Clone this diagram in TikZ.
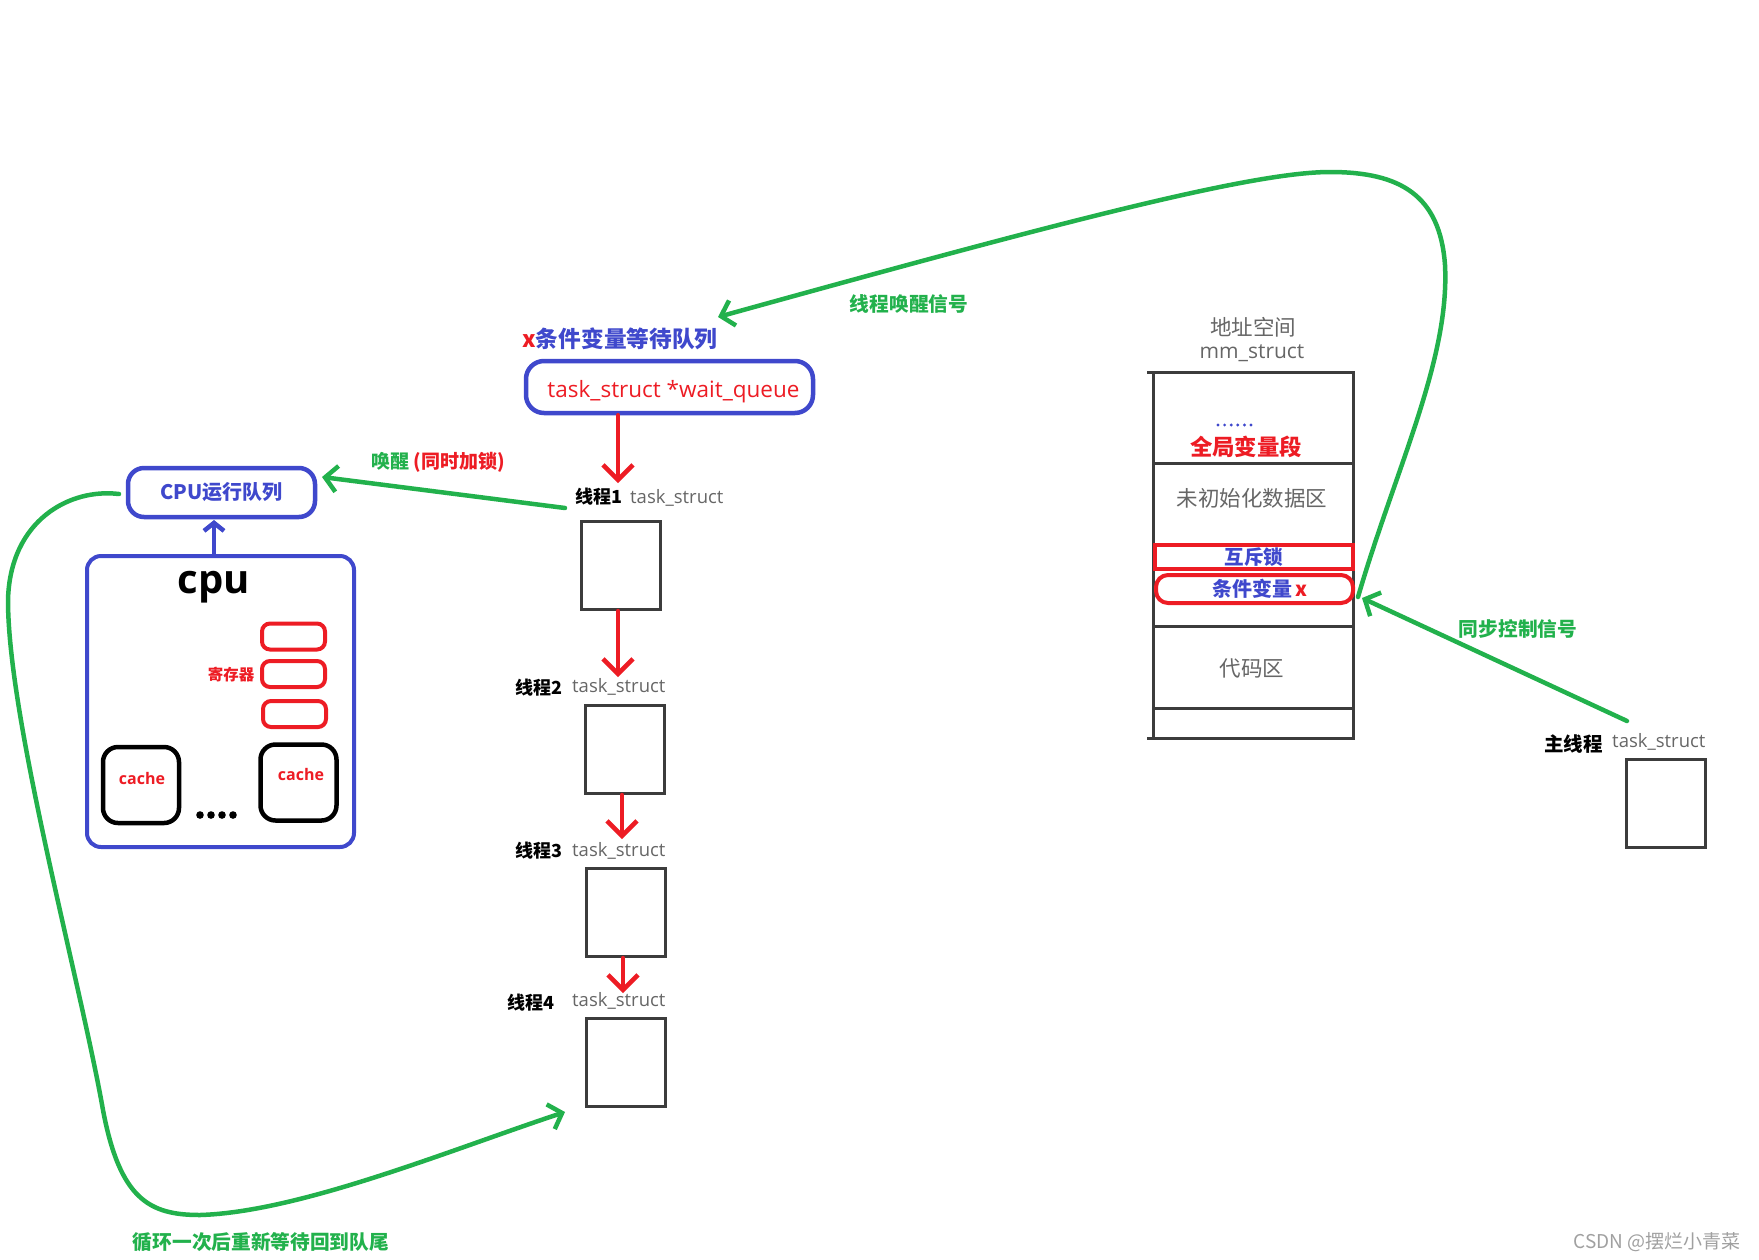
\documentclass[tikz,border=0pt]{standalone}
\usepackage{fontspec}
\setmainfont{Open Sans}
\newfontfamily\cjk{Noto Sans CJK SC}
\usetikzlibrary{arrows.meta}
\definecolor{cgreen}{HTML}{22B14C}
\definecolor{cblue}{HTML}{3F48CC}
\definecolor{cred}{HTML}{ED1C24}
\definecolor{cdark}{HTML}{3C3C3C}
\definecolor{cgray}{HTML}{666666}
\definecolor{cwm}{HTML}{A0A0A0}
\newcommand\fsz[1]{\fontsize{#1}{#1}\selectfont}
\tikzset{
  grn/.style={draw=cgreen, line width=4.5pt, line cap=round, line join=round},
  garrow/.style={grn, -{Straight Barb[length=12pt,width=26pt]}},
  rarrow/.style={draw=cred, line width=4.5pt, line cap=round, -{Straight Barb[length=15pt,width=30pt]}},
  barrow/.style={draw=cblue, line width=4.5pt, -{Straight Barb[length=8pt,width=20pt]}},
  taskbox/.style={draw=cdark, line width=3pt, minimum width=79pt, minimum height=88pt, inner sep=0pt},
  regbox/.style={draw=cred, line width=4pt, rounded corners=8pt, minimum width=63pt, minimum height=26pt, inner sep=0pt},
  cachebox/.style={draw=black, line width=4.5pt, rounded corners=15pt, minimum width=76pt, minimum height=76pt, inner sep=0pt},
  tlab/.style={font=\cjk\bfseries\fsz{18}, text=black, inner sep=0pt},
  tts/.style={font=\fsz{18.5}, text=cgray, inner sep=0pt},
  glab/.style={font=\cjk\bfseries\fsz{19.7}, text=cgreen, inner sep=0pt},
  graytxt/.style={font=\cjk\fsz{21.5}, text=cgray, inner sep=0pt},
  dline/.style={draw=cdark, line width=3pt},
}
\begin{document}
\begin{tikzpicture}[x=1pt,y=-1pt]
\useasboundingbox (0,0) rectangle (1759,1259);

% ---------- wait queue ----------
\node[font=\cjk\bfseries\fsz{22.7}, inner sep=0pt] (wql) at (620,339) {\textcolor{cred}{x}\textcolor{cblue}{条件变量等待队列}};
\node[draw=cblue, line width=4.5pt, rounded corners=18pt, minimum width=287pt, minimum height=52pt, inner sep=0pt] (wq) at (669.5,387) {};
\node[text=cred, font=\fsz{22.5}, inner sep=0pt, anchor=base] (wqt) at (673.5,397) {task\_struct *wait\_queue};

% ---------- threads ----------
\node[tlab, anchor=east] (l1) at (623,497) {线程1};
\node[tts, anchor=west] (s1) at (630,498) {task\_struct};
\node[taskbox] (t1) at (620.5,565.5) {};

\node[tlab, anchor=east] (l2) at (563,688) {线程2};
\node[tts, anchor=west] (s2) at (572,687) {task\_struct};
\node[taskbox] (t2) at (625,749.5) {};

\node[tlab, anchor=east] (l3) at (563,851) {线程3};
\node[tts, anchor=west] (s3) at (572,851) {task\_struct};
\node[taskbox] (t3) at (625.5,912.5) {};

\node[tlab, anchor=east] (l4) at (555,1003) {线程4};
\node[tts, anchor=west] (s4) at (572,1001) {task\_struct};
\node[taskbox] (t4) at (625.5,1062.5) {};

\coordinate (a1) at (618,483);
\coordinate (a2) at (618,677);
\coordinate (a3) at (622,839);
\coordinate (a4) at (623,993);
\draw[rarrow] (wq.south -| a1) -- (a1);
\draw[rarrow] (t1.south -| a2) -- (a2);
\draw[rarrow] (t2.south -| a3) -- (a3);
\draw[rarrow] (t3.south -| a4) -- (a4);

% ---------- CPU ----------
\node[draw=cblue, line width=4.5pt, rounded corners=16pt, minimum width=187pt, minimum height=49pt, inner sep=0pt,
      text=cblue, font=\cjk\bfseries\fsz{20}] (cpuq) at (221.5,492.5) {CPU运行队列};
\node[draw=cblue, line width=4pt, rounded corners=14pt, minimum width=267pt, minimum height=291pt, inner sep=0pt] (cpu) at (220.5,701.5) {};
\node[font=\bfseries\fsz{40}, anchor=base, inner sep=0pt] (cpul) at (214,593) {cpu};
\node[regbox] (r1) at (293.5,636.5) {};
\node[regbox] (r2) at (293.5,674) {};
\node[regbox] (r3) at (294.5,714) {};
\node[font=\cjk\bfseries\fsz{15.5}, text=cred, inner sep=0pt] (regl) at (231,675) {寄存器};
\node[cachebox] (c1) at (141,785) {};
\node[font=\bfseries\fsz{16}, text=cred, inner sep=0pt] (c1t) at (142,778) {cache};
\node[cachebox] (c2) at (298.5,782.5) {};
\node[font=\bfseries\fsz{16}, text=cred, inner sep=0pt] (c2t) at (301,774) {cache};
\foreach \x in {200,211,222,233} \fill (\x,815) circle (3.8pt);

\coordinate (b1) at (214,520);
\draw[barrow] (cpu.north -| b1) -- (b1);

% wake arrow
\coordinate (w0) at (565,508);
\coordinate (w1) at (322,477);
\draw[garrow] (w0) -- (w1);
\node[font=\cjk\bfseries\fsz{19}, inner sep=0pt] (wakel) at (438,462) {\textcolor{cgreen}{唤醒} \textcolor{cred}{(同时加锁)}};

% loop back
\coordinate (lp0) at (119,494);
\coordinate (lp1) at (565,1112);
\draw[garrow] (lp0) .. controls (70,488) and (10,520) .. (8,600)
  .. controls (8,720) and (80,980) .. (103,1110)
  .. controls (120,1200) and (150,1215) .. (200,1215)
  .. controls (300,1212) and (450,1150) .. (lp1);
\node[glab] (loopl) at (261,1242) {循环一次后重新等待回到队尾};

% ---------- address space ----------
\node[graytxt] (asl) at (1253,327) {地址空间};
\node[font=\fsz{21}, text=cgray, inner sep=0pt] (mml) at (1252,353) {mm\_struct};
\node[draw=cdark, line width=3pt, minimum width=200pt, minimum height=366pt, inner sep=0pt] (mm) at (1253,555) {};
\draw[dline] (1147,372) -- (1153,372);
\draw[dline] (1147,738) -- (1153,738);
\draw[dline] (1153,463) -- (1353,463);
\draw[dline] (1153,626) -- (1353,626);
\draw[dline] (1153,708) -- (1353,708);
\foreach \i in {0,...,5} \fill[cblue] (1218+\i*6.6,425) circle (1.6pt);
\node[font=\cjk\bfseries\fsz{22.4}, text=cred, inner sep=0pt] (gl) at (1246,447) {全局变量段};
\node[graytxt] (uninit) at (1252,498) {未初始化数据区};
\node[draw=cred, line width=4pt, minimum width=198pt, minimum height=24pt, inner sep=0pt,
      font=\cjk\bfseries\fsz{19.5}, text=cblue] (mutex) at (1254,557) {互斥锁};
\node[draw=cred, line width=4pt, rounded corners=12pt, minimum width=197pt, minimum height=28pt, inner sep=0pt] (cvx) at (1254.5,589) {};
\node[font=\cjk\bfseries\fsz{20}, inner sep=0pt] (cvxt) at (1260,589) {\textcolor{cblue}{条件变量}\,\textcolor{cred}{x}};
\node[graytxt] (code) at (1252,668) {代码区};

% big wake-signal curve
\coordinate (g0) at (1358,597);
\coordinate (g1) at (718,317);
\draw[garrow] (g0) .. controls (1395,470) and (1450,360) .. (1445,265)
  .. controls (1440,195) and (1400,172) .. (1330,172)
  .. controls (1250,172) and (1050,225) .. (g1);
\node[glab] (sigl) at (909,304) {线程唤醒信号};

% ---------- main thread ----------
\node[font=\cjk\bfseries\fsz{19.5}, anchor=east, inner sep=0pt] (ml) at (1603,744) {主线程};
\node[tts, anchor=west] (ms) at (1612,742) {task\_struct};
\node[taskbox] (mt) at (1665.5,803) {};
\coordinate (s0) at (1627,721);
\coordinate (s1c) at (1362,598);
\draw[garrow] (s0) -- (s1c);
\node[glab] (syncl) at (1518,629) {同步控制信号};

% watermark
\node[font=\cjk\fsz{19}, text=cwm, inner sep=0pt] (wm) at (1657,1242) {CSDN @摆烂小青菜};
\end{tikzpicture}
\end{document}
